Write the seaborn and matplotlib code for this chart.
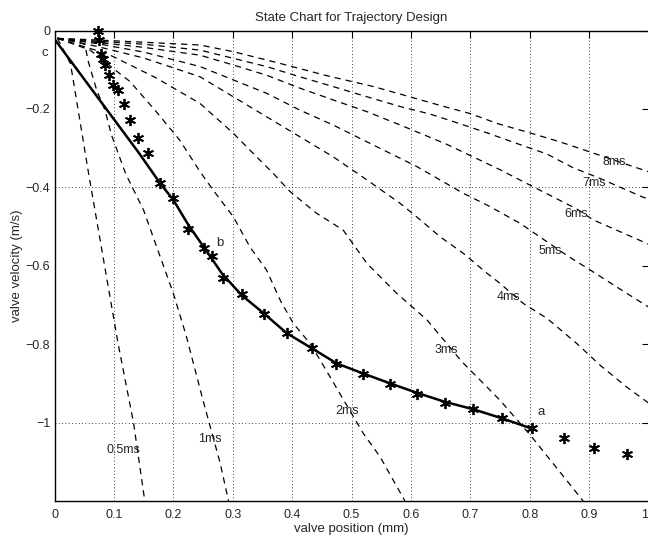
import numpy as np
import pandas as pd
import seaborn as sns
import matplotlib
matplotlib.use("Agg")
import matplotlib.pyplot as plt

sns.set_style("white")
plt.rcParams['font.family'] = ['Liberation Sans', 'DejaVu Sans']

# %%
# trajectory a -> b -> c (solid line)
path_x = [0.0, 0.07, 0.141, 0.178, 0.2, 0.225, 0.253, 0.282, 0.315, 0.352, 0.391,
          0.436, 0.475, 0.52, 0.565, 0.61, 0.657, 0.705, 0.753, 0.803]
path_y = [-0.022, -0.165, -0.31, -0.39, -0.432, -0.495, -0.556, -0.62, -0.675, -0.721,
          -0.772, -0.813, -0.849, -0.875, -0.9, -0.924, -0.947, -0.966, -0.989, -1.015]

# measured states (stars)
star_x = [0.074, 0.075, 0.078, 0.081, 0.085, 0.092, 0.099, 0.107, 0.117, 0.127, 0.141,
          0.158, 0.178, 0.199, 0.224, 0.252, 0.265, 0.283, 0.316, 0.353, 0.392, 0.433,
          0.474, 0.519, 0.564, 0.61, 0.657, 0.705, 0.753, 0.804, 0.857, 0.908, 0.963]
star_y = [0.0, -0.025, -0.061, -0.073, -0.087, -0.113, -0.138, -0.153, -0.187, -0.227,
          -0.274, -0.313, -0.39, -0.428, -0.505, -0.556, -0.575, -0.632, -0.673, -0.723,
          -0.772, -0.809, -0.851, -0.876, -0.902, -0.926, -0.951, -0.966, -0.989, -1.015,
          -1.04, -1.066, -1.08]

# constant time curves (dashed)
t05_x = [0.005, 0.027, 0.058, 0.107, 0.133, 0.152]
t05_y = [-0.02, -0.085, -0.37, -0.798, -1.0, -1.2]

t1_x = [0.005, 0.03, 0.051, 0.057, 0.071, 0.085, 0.096, 0.12, 0.15, 0.172, 0.2, 0.222,
        0.25, 0.279, 0.293]
t1_y = [-0.02, -0.026, -0.035, -0.08, -0.152, -0.203, -0.267, -0.366, -0.458, -0.552,
        -0.67, -0.78, -0.943, -1.104, -1.2]

t2_x = [0.005, 0.06, 0.11, 0.127, 0.169, 0.211, 0.245, 0.267, 0.301, 0.329, 0.357, 0.38,
        0.402, 0.43, 0.447, 0.52, 0.548, 0.59]
t2_y = [-0.02, -0.05, -0.11, -0.13, -0.203, -0.28, -0.36, -0.407, -0.475, -0.552, -0.611,
        -0.688, -0.747, -0.798, -0.84, -1.028, -1.087, -1.2]

t3_x = [0.005, 0.09, 0.17, 0.245, 0.301, 0.34, 0.368, 0.396, 0.441, 0.486, 0.526, 0.576,
        0.627, 0.686, 0.75, 0.801, 0.862, 0.89]
t3_y = [-0.02, -0.06, -0.12, -0.186, -0.262, -0.322, -0.364, -0.41, -0.466, -0.509, -0.594,
        -0.67, -0.738, -0.845, -0.943, -1.032, -1.147, -1.2]

t4_x = [0.005, 0.07, 0.15, 0.245, 0.301, 0.357, 0.413, 0.469, 0.526, 0.582, 0.615, 0.649,
        0.688, 0.728, 0.75, 0.789, 0.829, 0.879, 0.918, 0.963, 1.0]
t4_y = [-0.02, -0.04, -0.07, -0.118, -0.169, -0.22, -0.271, -0.322, -0.381, -0.441, -0.482,
        -0.526, -0.568, -0.619, -0.645, -0.696, -0.734, -0.798, -0.853, -0.909, -0.95]

t5_x = [0.005, 0.07, 0.15, 0.245, 0.301, 0.357, 0.413, 0.469, 0.526, 0.582, 0.61, 0.649,
        0.688, 0.733, 0.784, 0.862, 0.902, 0.963, 1.0]
t5_y = [-0.02, -0.033, -0.055, -0.092, -0.126, -0.16, -0.203, -0.241, -0.284, -0.326,
        -0.347, -0.381, -0.415, -0.449, -0.492, -0.573, -0.611, -0.67, -0.705]

t6_x = [0.005, 0.07, 0.15, 0.245, 0.301, 0.357, 0.413, 0.469, 0.526, 0.582, 0.66, 0.75,
        0.8, 0.879, 0.907, 1.0]
t6_y = [-0.02, -0.03, -0.043, -0.063, -0.088, -0.114, -0.147, -0.177, -0.207, -0.241,
        -0.29, -0.355, -0.394, -0.455, -0.483, -0.545]

t7_x = [0.005, 0.07, 0.15, 0.245, 0.301, 0.357, 0.413, 0.469, 0.526, 0.582, 0.632, 0.677,
        0.73, 0.778, 0.829, 0.873, 0.918, 0.989, 1.0]
t7_y = [-0.02, -0.027, -0.035, -0.05, -0.071, -0.092, -0.118, -0.143, -0.169, -0.194,
        -0.213, -0.235, -0.262, -0.288, -0.315, -0.35, -0.377, -0.424, -0.43]

t8_x = [0.005, 0.07, 0.15, 0.245, 0.301, 0.38, 0.455, 0.537, 0.598, 0.649, 0.7, 0.747,
        0.798, 0.851, 0.896, 0.974, 1.0]
t8_y = [-0.02, -0.024, -0.03, -0.037, -0.054, -0.084, -0.114, -0.143, -0.169, -0.191,
        -0.212, -0.238, -0.26, -0.284, -0.307, -0.347, -0.36]

curve_names = ['0.5ms', '1ms', '2ms', '3ms', '4ms', '5ms', '6ms', '7ms', '8ms']
curves_x = [t05_x, t1_x, t2_x, t3_x, t4_x, t5_x, t6_x, t7_x, t8_x]
curves_y = [t05_y, t1_y, t2_y, t3_y, t4_y, t5_y, t6_y, t7_y, t8_y]

# where the curve names are written
label_x = [0.116, 0.262, 0.492, 0.66, 0.764, 0.834, 0.879, 0.908, 0.942]
label_y = [-1.07, -1.043, -0.97, -0.815, -0.679, -0.562, -0.469, -0.39, -0.335]

xtick_vals = [0, 0.1, 0.2, 0.3, 0.4, 0.5, 0.6, 0.7, 0.8, 0.9, 1.0]
xtick_text = ['0', '0.1', '0.2', '0.3', '0.4', '0.5', '0.6', '0.7', '0.8', '0.9', '1']
ytick_vals = [0, -0.2, -0.4, -0.6, -0.8, -1.0]
ytick_text = ['0', '\u22120.2', '\u22120.4', '\u22120.6', '\u22120.8', '\u22121']

# %%
fig = plt.figure(figsize=(6.48, 5.35), dpi=100)
ax = fig.add_axes([54.5 / 648, 1 - 501 / 535, 594 / 648, 470.5 / 535])

# dotted grid (only partly visible in the original)
for xv in xtick_vals[1:-1]:
    ax.axvline(xv, color='black', lw=0.6, ls=(0, (1, 3)), zorder=1)
for yv in [-0.4, -1.0]:
    ax.axhline(yv, color='black', lw=0.6, ls=(0, (1, 3)), zorder=1)

# dashed constant time lines
for i in range(len(curve_names)):
    sns.lineplot(x=curves_x[i], y=curves_y[i], ax=ax, color='black', lw=0.9,
                 linestyle=(0, (5, 4)), sort=False, estimator=None, zorder=2)
    ax.text(label_x[i], label_y[i], curve_names[i], ha='center', va='center',
            fontsize=9, zorder=4)

# trajectory
sns.lineplot(x=path_x, y=path_y, ax=ax, color='black', lw=1.8, sort=False,
             estimator=None, zorder=3)
ax.plot(star_x, star_y, ls='none', marker=(6, 2, 0), ms=8, mew=1.3, color='black',
        zorder=5, clip_on=False)

ax.text(0.82, -0.972, 'a', ha='center', va='center', fontsize=9.5)
ax.text(0.279, -0.541, 'b', ha='center', va='center', fontsize=9.5)
ax.text(-0.016, -0.058, 'c', ha='center', va='center', fontsize=9.5, clip_on=False)

ax.set_xlim(0, 1)
ax.set_ylim(-1.2, 0)
ax.set_xticks(xtick_vals)
ax.set_xticklabels(xtick_text)
ax.set_yticks(ytick_vals)
ax.set_yticklabels(ytick_text)
ax.tick_params(direction='in', length=5, width=0.8, top=True, right=True,
               labelsize=9, color='black')
ax.tick_params(axis='x', pad=6)
ax.tick_params(axis='y', pad=3)
# last x label sits on the figure edge, keep it inside
ax.get_xticklabels()[-1].set_horizontalalignment('right')
for sp in ax.spines.values():
    sp.set_color('black')
    sp.set_linewidth(1.0)

ax.set_title('State Chart for Trajectory Design', fontsize=9.5, pad=7)
ax.set_xlabel('valve position (mm)', fontsize=9.5, labelpad=1)
ax.set_ylabel('valve velocity (m/s)', fontsize=9.5, labelpad=2)

fig.savefig('out.png', dpi=100)
